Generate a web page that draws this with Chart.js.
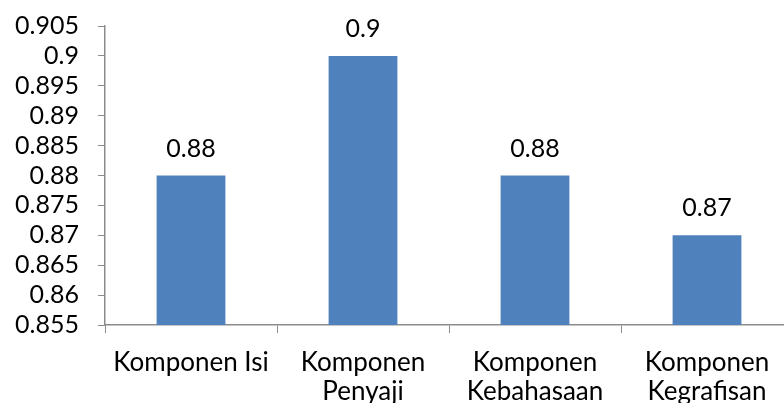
<!DOCTYPE html>
<html>
<head>
<meta charset="utf-8">
<script src="https://cdn.jsdelivr.net/npm/chart.js"></script>
<style>
  html, body { margin: 0; padding: 0; background: #fff; overflow: hidden; }
  #wrap { width: 800px; height: 403px; }
</style>
</head>
<body>
<div id="wrap"><canvas id="chart" width="800" height="403"></canvas></div>
<script>
// Data
const categories = [['Komponen Isi'], ['Komponen', 'Penyaji'], ['Komponen', 'Kebahasaan'], ['Komponen', 'Kegrafisan']];
const values = [0.88, 0.9, 0.88, 0.87];
const yMin = 0.855;
const yMax = 0.905;
const yStep = 0.005;

const FONT = 'Lato, "Open Sans", sans-serif';
const AXIS = '#8c8c8c';

// draws the value above each bar
const valueLabels = {
  id: 'valueLabels',
  afterDatasetsDraw(chart) {
    const ctx = chart.ctx;
    const meta = chart.getDatasetMeta(0);
    ctx.save();
    ctx.font = '25px ' + FONT;
    ctx.fillStyle = '#000';
    ctx.textAlign = 'center';
    ctx.textBaseline = 'middle';
    meta.data.forEach((bar, i) => {
      ctx.fillText(String(values[i]), bar.x, bar.y - 27);
    });
    ctx.restore();
  }
};

new Chart(document.getElementById('chart'), {
  type: 'bar',
  data: {
    labels: categories,
    datasets: [{
      data: values,
      backgroundColor: '#4f81bd',
      borderWidth: 0,
      categoryPercentage: 1,
      barPercentage: 0.4
    }]
  },
  options: {
    responsive: false,
    animation: false,
    devicePixelRatio: 1,
    layout: { padding: { top: 26, right: 7, left: 0, bottom: 0 } },
    plugins: { legend: { display: false }, tooltip: { enabled: false } },
    scales: {
      x: {
        grid: { display: true, drawOnChartArea: false, drawTicks: true, tickLength: 8, color: AXIS, offset: true },
        border: { display: true, color: AXIS, width: 1.5 },
        ticks: { color: '#000', font: { family: FONT, size: 26, lineHeight: 1.13 }, padding: 15, maxRotation: 0, autoSkip: false },
        afterFit(scale) { scale.height = 78; }
      },
      y: {
        min: yMin,
        max: yMax,
        grid: { display: true, drawOnChartArea: false, drawTicks: true, tickLength: 7, color: AXIS },
        border: { display: true, color: AXIS, width: 1.5 },
        ticks: {
          stepSize: yStep,
          autoSkip: false,
          color: '#000',
          font: { family: FONT, size: 25 },
          padding: 19,
          callback: v => String(Number(v.toFixed(3)))
        },
        afterFit(scale) {
          scale.width = 105;
          scale.paddingTop = 0;
          scale.paddingBottom = 0;
        }
      }
    }
  },
  plugins: [valueLabels]
});
</script>
</body>
</html>
